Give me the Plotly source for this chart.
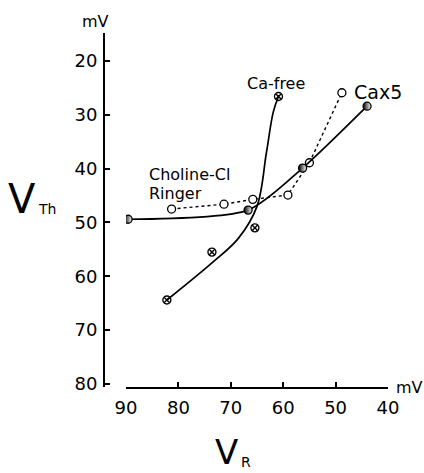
import plotly.graph_objects as go

# Threshold potential (V_Th, mV) versus resting potential (V_R, mV)
cax5_vr = [89.6, 66.7, 56.3, 44.0]
cax5_vth = [49.4, 47.7, 39.9, 28.4]

choline_vr = [81.3, 71.3, 65.8, 59.1, 55.0, 48.8]
choline_vth = [47.5, 46.6, 45.7, 44.9, 38.9, 25.9]

cafree_vr = [82.2, 73.6, 65.4, 60.9]
cafree_vth = [64.4, 55.5, 51.0, 26.6]
# hand-fitted curve through the Ca-free points
cafree_fit_vr = [82.2, 73.6, 68.6, 65.0, 63.2, 61.9, 60.9]
cafree_fit_vth = [64.4, 57.5, 53.0, 47.0, 37.0, 29.5, 26.6]

x_ticks = [90, 80, 70, 60, 50, 40]
y_ticks = [20, 30, 40, 50, 60, 70, 80]

W, H = 424, 473
L, R, T, B = 104, 36, 33, 86
FONT = "DejaVu Sans"


def paper(px, py):
    return (px - L) / (W - L - R), (H - B - py) / (H - T - B)


fig = go.Figure()

fig.add_trace(go.Scatter(
    x=cafree_fit_vr, y=cafree_fit_vth, mode="lines",
    line=dict(color="black", width=1.7, shape="spline", smoothing=1.0),
    hoverinfo="skip"))
fig.add_trace(go.Scatter(
    x=cafree_vr, y=cafree_vth, mode="markers",
    marker=dict(symbol="circle-x-open", size=8, color="black",
                line=dict(width=1.4, color="black"))))

fig.add_trace(go.Scatter(
    x=choline_vr, y=choline_vth, mode="lines+markers",
    line=dict(color="black", width=1.4, dash="dot"),
    marker=dict(symbol="circle", size=8, color="white",
                line=dict(width=1.3, color="black"))))

fig.add_trace(go.Scatter(
    x=cax5_vr, y=cax5_vth, mode="lines+markers",
    line=dict(color="black", width=1.7, shape="spline", smoothing=0.7),
    marker=dict(symbol="circle", size=8, color="black",
                gradient=dict(type="horizontal", color="white"),
                line=dict(width=1.3, color="black"))))

axis_font = dict(family=FONT, size=18, color="black")

fig.update_layout(
    width=W, height=H,
    margin=dict(l=L, r=R, t=T, b=B),
    paper_bgcolor="white", plot_bgcolor="white",
    showlegend=False,
    xaxis=dict(
        domain=[(126 - L) / (W - L - R), 1],
        range=[90, 40], tickvals=x_ticks,
        showline=True, linecolor="black", linewidth=2,
        ticks="inside", ticklen=5, tickwidth=1.5, tickcolor="black",
        showgrid=False, zeroline=False, tickfont=axis_font,
        ticklabelstandoff=3),
    yaxis=dict(
        anchor="free", position=0,
        range=[80.56, 14.8], tickvals=y_ticks,
        showline=True, linecolor="black", linewidth=2,
        ticks="inside", ticklen=5, tickwidth=1.5, tickcolor="black",
        showgrid=False, zeroline=False, tickfont=axis_font,
        ticklabelstandoff=2),
)

label_font = dict(family=FONT, size=16, color="black")
fig.add_annotation(x=61.4, y=24.1, text="Ca-free", showarrow=False,
                   font=label_font)
fig.add_annotation(x=41.9, y=25.85, text="Cax5", showarrow=False,
                   font=dict(family=FONT, size=19, color="black"))
fig.add_annotation(x=86.05, y=41.0, text="Choline-Cl", showarrow=False,
                   xanchor="left", font=label_font)
fig.add_annotation(x=86.05, y=44.6, text="Ringer", showarrow=False,
                   xanchor="left", font=label_font)

# unit labels and axis symbols
for text, (px, py), size in [
    ("mV", (95, 21), 16),
    ("mV", (410, 387), 16),
    ("V", (22, 199), 40),
    ("Th", (47, 209), 14),
    ("V", (226, 452), 34),
    ("R", (246, 462), 14),
]:
    xp, yp = paper(px, py)
    fig.add_annotation(x=xp, y=yp, xref="paper", yref="paper", text=text,
                       xanchor="center", yanchor="middle", showarrow=False,
                       font=dict(family=FONT, size=size, color="black"))

fig.write_html("out.html")
